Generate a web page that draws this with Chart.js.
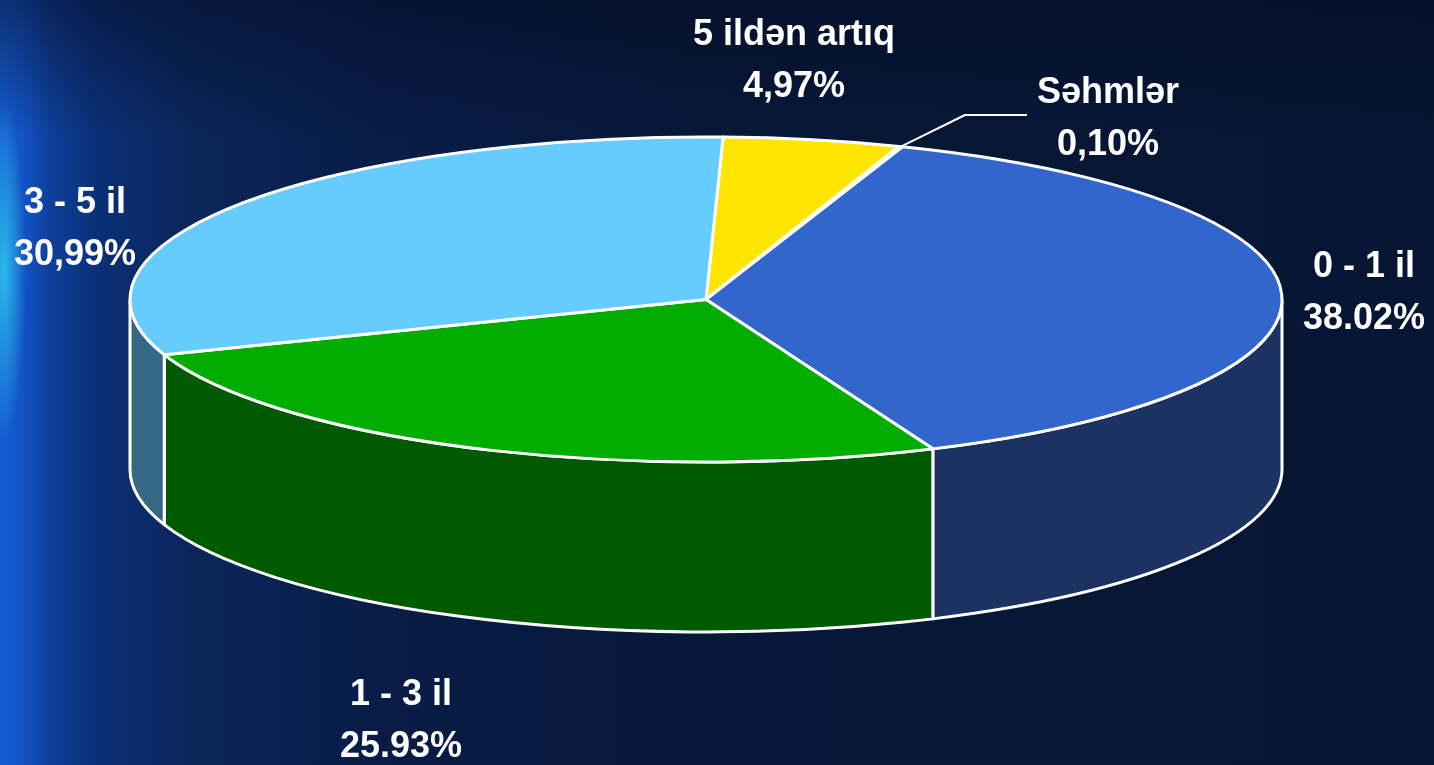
<!DOCTYPE html>
<html lang="az">
<head>
    <meta charset="UTF-8">
    <title>Portfel strukturu</title>
    <script src="https://cdn.jsdelivr.net/npm/chart.js"></script>
    <style>
        html, body { margin: 0; padding: 0; }
        body {
            width: 1434px;
            height: 765px;
            overflow: hidden;
            background:
                radial-gradient(ellipse 22px 170px at 4px 270px, rgba(50,215,240,0.75), rgba(50,215,240,0) 100%),
                linear-gradient(to bottom, rgba(4,12,36,0.55) 0px, rgba(4,12,36,0) 140px),
                linear-gradient(to right, #155fd6 0px, #1352c4 25px, #0e409c 50px, #0b3078 95px, #0a2659 190px, #081c46 380px, #071838 700px, #061533 100%);
        }
        .wrap { position: relative; width: 1434px; height: 765px; }
    </style>
</head>
<body>
    <div class="wrap">
        <canvas id="pieChart"></canvas>
    </div>
    <script>
        // slices go clockwise from the top
        const categories = ['5 ildən artıq', 'Səhmlər', '0 - 1 il', '1 - 3 il', '3 - 5 il'];
        const shares = [4.97, 0.10, 38.02, 25.93, 30.99];
        const shareLabels = ['4,97%', '0,10%', '38.02%', '25.93%', '30,99%'];

        const topColors = ['#FFE500', '#3366CC', '#3366CC', '#00AD00', '#66CCFF'];
        const sideColors = ['#8C7E00', '#1B3263', '#1B3263', '#005A00', '#356882'];

        // where each label sits (centre x, first baseline)
        const labelAt = [[794, 45], [1108, 103], [1364, 277], [401, 705], [75, 213]];

        const DEPTH = 170;

        const pie3d = {
            id: 'pie3d',
            beforeDatasetsDraw(chart) {
                const ctx = chart.ctx;
                const area = chart.chartArea;
                const arcs = chart.getDatasetMeta(0).data;
                const cx = arcs[0].x, cy = arcs[0].y;
                const rx = (area.right - area.left) / 2;
                const ry = (area.bottom - area.top) / 2;

                ctx.save();
                ctx.lineWidth = 3;
                ctx.strokeStyle = '#ffffff';
                ctx.lineJoin = 'round';

                // side walls, only the front half (0..PI) can be seen
                arcs.forEach((arc, i) => {
                    const a = Math.max(arc.startAngle, 0);
                    const b = Math.min(arc.endAngle, Math.PI);
                    if (b <= a) return;
                    ctx.beginPath();
                    ctx.ellipse(cx, cy, rx, ry, 0, a, b);
                    ctx.lineTo(cx + rx * Math.cos(b), cy + DEPTH + ry * Math.sin(b));
                    ctx.ellipse(cx, cy + DEPTH, rx, ry, 0, b, a, true);
                    ctx.closePath();
                    ctx.fillStyle = sideColors[i];
                    ctx.fill();
                    ctx.stroke();
                });

                // top face
                arcs.forEach((arc, i) => {
                    ctx.beginPath();
                    ctx.moveTo(cx, cy);
                    ctx.ellipse(cx, cy, rx, ry, 0, arc.startAngle, arc.endAngle);
                    ctx.closePath();
                    ctx.fillStyle = topColors[i];
                    ctx.fill();
                    ctx.stroke();
                });

                // leader line for the tiny slice
                const tiny = arcs[1];
                const mid = (tiny.startAngle + tiny.endAngle) / 2;
                ctx.beginPath();
                ctx.lineWidth = 2;
                ctx.moveTo(cx + rx * Math.cos(mid), cy + ry * Math.sin(mid));
                ctx.lineTo(965, 115);
                ctx.lineTo(1027, 115);
                ctx.stroke();

                // labels
                ctx.fillStyle = '#ffffff';
                ctx.textAlign = 'center';
                ctx.textBaseline = 'alphabetic';
                ctx.font = 'bold 36px "Liberation Sans", Arial, sans-serif';
                categories.forEach((name, i) => {
                    const [x, y] = labelAt[i];
                    ctx.fillText(name, x, y);
                    ctx.fillText(shareLabels[i], x, y + 52);
                });

                ctx.restore();
                return false;
            }
        };

        new Chart(document.getElementById('pieChart'), {
            type: 'pie',
            data: {
                labels: categories,
                datasets: [{
                    data: shares,
                    backgroundColor: topColors,
                    borderWidth: 0
                }]
            },
            options: {
                responsive: true,
                maintainAspectRatio: false,
                animation: false,
                rotation: 1.7,
                layout: { padding: { left: 130, right: 152, top: 137, bottom: 303 } },
                plugins: {
                    legend: { display: false },
                    tooltip: { enabled: false }
                }
            },
            plugins: [pie3d]
        });
    </script>
</body>
</html>
